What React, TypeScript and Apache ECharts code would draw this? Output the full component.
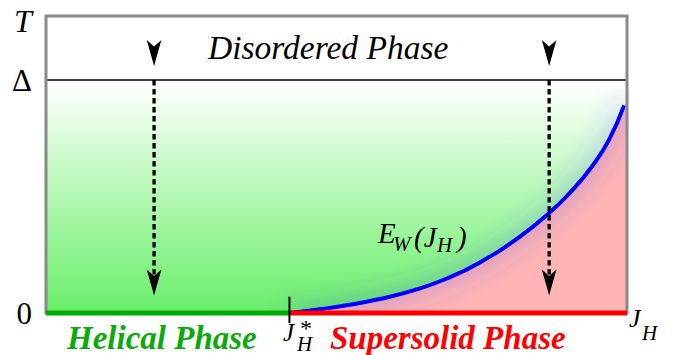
import React, { useEffect, useRef } from "react";
import * as echarts from "echarts";

// Critical curve E_W(J_H), x in % of J_H range, y in % of Δ
const curveX = [41.9, 47.1, 51.7, 57.4, 63.1, 68.9, 74.6, 81.4, 86.6, 90.5, 94.0, 96.9, 99.5];
const curveY = [0, 1.6, 3.3, 6.0, 9.6, 14.7, 21.6, 32.5, 42.9, 52.5, 63.0, 74.3, 89.1];
const jStar = 41.9;
const xMax = 100;
const delta = 100;
const yMax = 127.5;
const arrowXs = [18.6, 86.6];
const arrowTop = 106;
const arrowBottom = 7.5;
const dashTo = 11;

const SERIF = "Liberation Serif";

const txt = (
  x: number, y: number, text: string, size: number,
  opts: { italic?: boolean; bold?: boolean; fill?: string } = {}
) => {
  const style: any = {
    text,
    fontFamily: SERIF,
    fontSize: size,
    fill: opts.fill || "#000",
    verticalAlign: "middle",
  };
  if (opts.italic !== false) style.fontStyle = "italic";
  if (opts.bold) style.fontWeight = "bold";
  return { type: "text", x, y, z: 100, style };
};

export default function App() {
  const ref = useRef<HTMLDivElement>(null);
  useEffect(() => {
    if (!ref.current) return;
    const chart = echarts.init(ref.current, undefined, { renderer: "svg" });
    const curve = curveX.map((x, i) => [x, curveY[i]]);
    const pink = [...curve, [xMax, curveY[curveY.length - 1] + 1]];
    const dashSeries = arrowXs.map((x) => ({
      type: "line",
      data: [[x, delta], [x, dashTo]],
      symbol: "none",
      lineStyle: { color: "#000", width: 3.3, type: [5.5, 3.5] },
      z: 6,
      clip: false,
    }));
    chart.setOption({
      animation: false,
      grid: {
        left: 46, right: 71, top: 16, bottom: 42,
        show: true, borderColor: "#8a8a8a", borderWidth: 3,
        backgroundColor: "transparent", z: 10,
      },
      xAxis: { type: "value", min: 0, max: xMax, show: false },
      yAxis: {
        type: "value", min: 0, max: yMax, interval: 100,
        axisLine: { show: false }, axisTick: { show: false }, splitLine: { show: false },
        axisLabel: {
          showMaxLabel: false, margin: 14,
          fontFamily: SERIF, fontSize: 31, color: "#000",
          formatter: (v: number) => (v === 0 ? "0" : v === delta ? "Δ" : ""),
        },
      },
      series: [
        {
          type: "line",
          data: [[0, delta], [xMax, delta]],
          symbol: "none",
          lineStyle: { color: "#000", width: 1.6 },
          areaStyle: {
            opacity: 1,
            color: {
              type: "linear", x: 0, y: 0, x2: 0, y2: 1,
              colorStops: [
                { offset: 0, color: "#ffffff" },
                { offset: 0.12, color: "#f0fef0" },
                { offset: 0.4, color: "#c2f9c2" },
                { offset: 0.65, color: "#9cf59c" },
                { offset: 1, color: "#6aee6a" },
              ],
            },
          },
          z: 2,
        },
        {
          type: "line",
          data: pink,
          symbol: "none",
          smooth: 0.5,
          lineStyle: { width: 0 },
          areaStyle: { color: "#ffb5b5", opacity: 1 },
          z: 3,
        },
        {
          type: "line",
          data: curve,
          symbol: "none",
          smooth: 0.5,
          lineStyle: {
            color: "#0000ff", width: 4,
            shadowBlur: 24, shadowColor: "rgba(60,60,255,0.95)",
          },
          z: 4,
        },
        ...dashSeries,
        {
          type: "scatter",
          data: arrowXs.flatMap((x) => [[x, arrowTop], [x, arrowBottom]]),
          symbol: "arrow",
          symbolRotate: 180,
          symbolSize: [11, 26],
          itemStyle: { color: "#000", opacity: 1 },
          z: 7,
        },
        {
          type: "line",
          data: [[0, 0], [jStar, 0]],
          symbol: "none",
          lineStyle: { color: "#00aa00", width: 5 },
          z: 11, clip: false,
        },
        {
          type: "line",
          data: [[jStar, 0], [xMax, 0]],
          symbol: "none",
          lineStyle: { color: "#ff0000", width: 5 },
          z: 11, clip: false,
        },
        {
          type: "line",
          data: [[jStar, 7], [jStar, -4.3]],
          symbol: "none",
          lineStyle: { color: "#000", width: 2 },
          z: 12, clip: false,
        },
      ],
      graphic: [
        txt(14, 21, "T", 32),
        txt(208, 47, "Disordered Phase", 33.5),
        txt(67, 337.5, "Helical Phase", 33, { bold: true, fill: "#0aaa0a" }),
        txt(330, 337.5, "Supersolid Phase", 33, { bold: true, fill: "#ff0000" }),
        txt(283, 332, "J", 25),
        txt(300, 328, "*", 24, { italic: false }),
        txt(297, 344, "H", 21),
        txt(629, 318, "J", 26),
        txt(642, 333, "H", 21),
        txt(378, 233, "E", 29),
        txt(393, 244, "W", 21),
        txt(414, 237, "(J", 29),
        txt(437, 245, "H", 21),
        txt(457, 237, ")", 29),
      ],
    });
    return () => chart.dispose();
  }, []);
  return <div ref={ref} style={{ width: 698, height: 355, position: "absolute", left: 0, top: 0 }} />;
}
